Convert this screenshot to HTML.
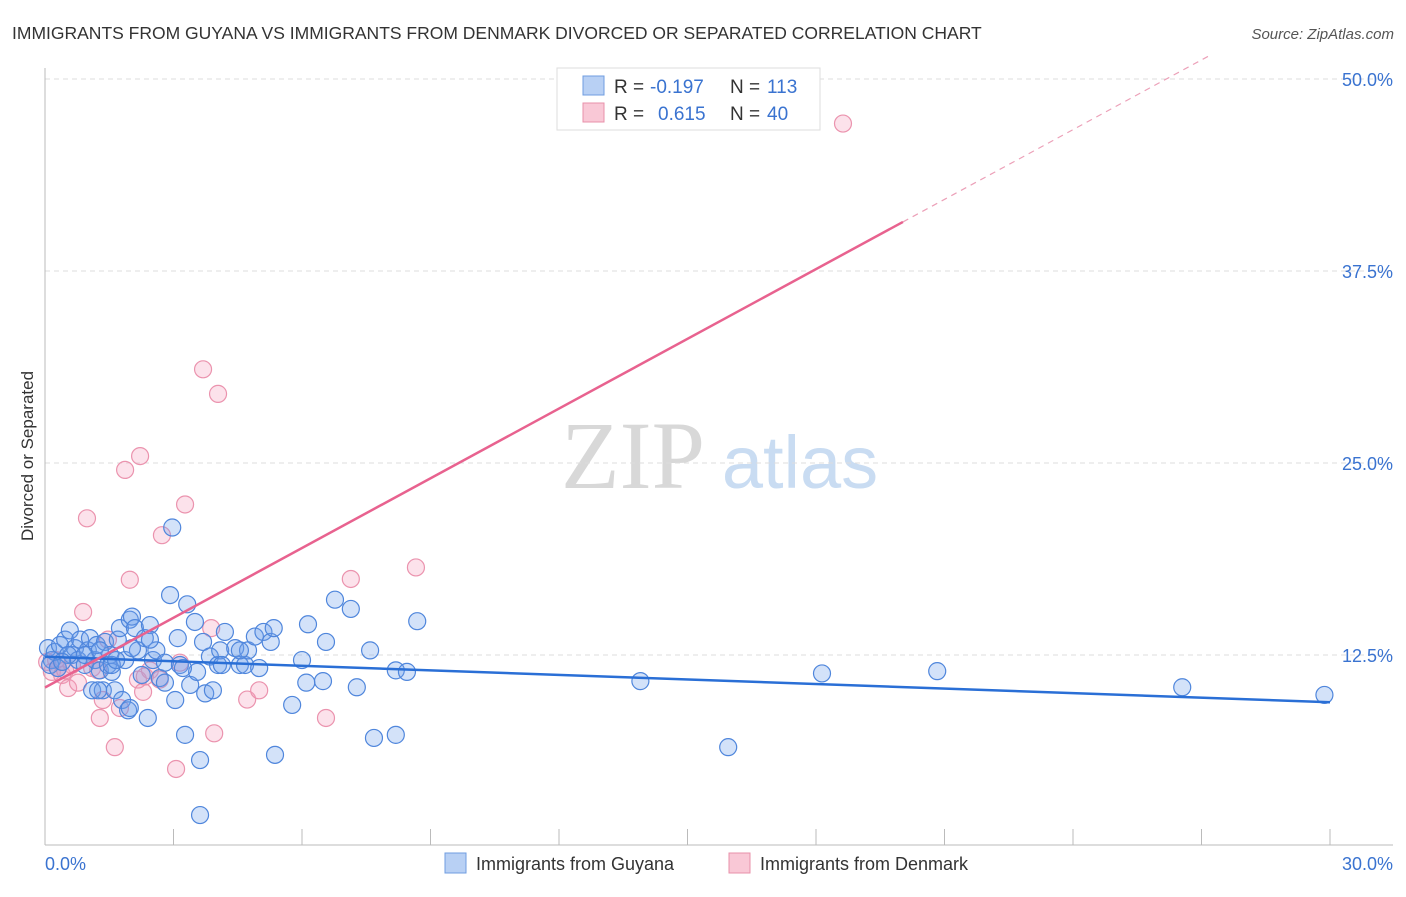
<!DOCTYPE html>
<html><head><meta charset="utf-8"><style>
body{margin:0;background:#fff;font-family:"Liberation Sans",sans-serif;}
svg text{font-family:"Liberation Sans",sans-serif;}
</style></head><body>
<svg id="chart" width="1406" height="892" xmlns="http://www.w3.org/2000/svg">
<text x="12" y="39" font-size="17.5" fill="#333">IMMIGRANTS FROM GUYANA VS IMMIGRANTS FROM DENMARK DIVORCED OR SEPARATED CORRELATION CHART</text>
<text x="1394" y="39" font-size="15" fill="#555" text-anchor="end" font-style="italic">Source: ZipAtlas.com</text>
<g>
<text x="633" y="488" font-size="96" fill="#d8d8d8" text-anchor="middle" style="font-family:'Liberation Serif',serif">ZIP</text>
<text x="800" y="488" font-size="74" fill="#c9dcf2" text-anchor="middle">atlas</text>
</g>
<g id="grid"></g>
<g id="axes"></g>
<g id="marks"></g>
<g id="lines"></g>
<g>
<rect x="557" y="68" width="263" height="62" fill="#fff" stroke="#ddd"/>
<rect x="583" y="76" width="21" height="19" fill="#b8d0f4" stroke="#6f9de0"/>
<text x="614" y="93" font-size="19" fill="#333">R = </text><text x="650" y="93" font-size="19" fill="#3a73d0">-0.197</text>
<text x="730" y="93" font-size="19" fill="#333">N = </text><text x="767" y="93" font-size="19" fill="#3a73d0">113</text>
<rect x="583" y="103" width="21" height="19" fill="#f9c8d6" stroke="#e890aa"/>
<text x="614" y="120" font-size="19" fill="#333">R = </text><text x="658" y="120" font-size="19" fill="#3a73d0">0.615</text>
<text x="730" y="120" font-size="19" fill="#333">N = </text><text x="767" y="120" font-size="19" fill="#3a73d0">40</text>
</g>
<text transform="translate(33,456) rotate(-90)" font-size="17" fill="#333" text-anchor="middle">Divorced or Separated</text>
<g>
<rect x="445" y="853" width="21" height="20" fill="#b8d0f4" stroke="#6f9de0"/>
<text x="476" y="870" font-size="18" fill="#333">Immigrants from Guyana</text>
<rect x="729" y="853" width="21" height="20" fill="#f9c8d6" stroke="#e890aa"/>
<text x="760" y="870" font-size="18" fill="#333">Immigrants from Denmark</text>
</g>
</svg>
<script>
const blueX=[0.07,0.16,0.23,0.35,0.47,0.58,0.63,0.7,0.77,0.82,0.93,1.0,1.05,1.1,1.17,1.21,1.28,1.35,1.4,1.47,1.52,1.56,1.63,1.7,1.75,1.8,1.87,1.94,1.98,2.03,2.1,2.17,2.26,2.33,2.4,2.45,2.52,2.6,2.68,2.8,2.92,2.97,3.04,3.1,3.15,3.27,3.32,3.39,3.5,3.55,3.62,3.69,3.74,3.85,3.92,4.04,4.09,4.13,4.2,3.62,4.44,4.55,4.67,4.74,4.9,5.0,5.1,5.27,5.34,5.37,5.77,6.0,6.1,6.14,6.49,6.56,6.77,7.14,7.28,7.59,7.68,8.19,8.19,8.45,8.69,13.9,15.95,18.14,20.83,26.55,29.87,0.12,0.3,0.54,0.4,0.93,1.28,1.56,1.66,2.03,2.45,2.8,3.22,4.55,1.98,1.24];
const blueY=[12.95,12.17,12.7,13.15,13.5,14.1,12.5,12.95,12.17,13.5,11.85,12.8,13.6,10.2,12.17,13.15,11.5,10.2,13.35,11.85,12.5,11.4,10.2,13.5,14.25,9.57,12.17,8.9,14.8,15.0,14.25,12.8,11.2,13.6,8.4,14.45,12.17,12.8,11.0,12.0,16.4,20.8,9.57,13.6,11.85,7.3,15.8,10.55,14.65,11.4,5.66,13.35,10.0,12.4,10.2,11.85,12.8,11.85,14.0,2.08,12.95,11.85,11.85,12.8,13.7,11.65,14.0,13.35,14.25,6.0,9.25,12.17,10.7,14.5,10.8,13.35,16.1,15.5,10.4,12.8,7.1,11.5,7.3,11.4,14.7,10.8,6.5,11.3,11.45,10.4,9.9,11.85,11.65,12.5,12.05,12.5,12.8,11.85,12.17,12.95,13.5,10.7,11.65,12.8,9.05,10.2];
const pinkX=[0.05,0.16,0.3,0.4,0.54,0.63,0.77,0.89,0.98,1.1,1.24,1.28,1.35,1.47,1.63,1.75,1.87,1.98,2.17,2.22,2.29,2.45,2.68,2.73,3.06,3.15,3.27,3.69,3.88,3.95,4.04,4.72,5.0,6.56,7.14,8.66,18.63,0.26,0.47,2.33];
const pinkY=[12.05,11.4,11.65,11.2,10.35,11.85,10.7,15.3,21.4,11.65,11.5,8.4,9.57,13.5,6.5,9.05,24.55,17.4,10.9,25.45,10.1,11.5,10.9,20.3,5.08,12.0,22.3,31.1,14.25,7.4,29.5,9.6,10.2,8.4,17.45,18.2,47.1,12.17,11.5,11.1];
const yTicks=[12.5,25,37.5,50];
const xTickLabels=["0.0%","30.0%"];
const NS="http://www.w3.org/2000/svg";
const X0=45,X1=1330,Y0=847,PY=192/12.5;
function sx(v){return X0+v*(X1-X0)/30;}
function sy(v){return Y0-v*PY;}
function mk(t,a,p){const e=document.createElementNS(NS,t);for(const k in a)e.setAttribute(k,a[k]);p.appendChild(e);return e;}
const grid=document.getElementById('grid'),axes=document.getElementById('axes'),marks=document.getElementById('marks'),lines=document.getElementById('lines');
yTicks.forEach(v=>{
 const l=mk('line',{x1:45,x2:1393,y1:sy(v),y2:sy(v),stroke:'#ddd','stroke-dasharray':'5,4'},grid);
 
 
 const t=mk('text',{x:1393,y:sy(v)+7,'font-size':18,fill:'#3a73d0','text-anchor':'end'},axes);
 t.textContent=(v%1===0?v.toFixed(1):v)+'%';
 
 
});
const la=mk('line',{x1:45,x2:45,y1:68,y2:845,stroke:'#bbb'},axes);


const lb=mk('line',{x1:45,x2:1393,y1:845,y2:845,stroke:'#bbb'},axes);


for(let i=0;i<=10;i++){
 const tk=mk('line',{x1:sx(i*3),x2:sx(i*3),y1:829,y2:845,stroke:'#bbb'},axes);
 
 
}
const t0=mk('text',{x:45,y:870,'font-size':18,fill:'#3a73d0'},axes);t0.textContent=xTickLabels[0];


const t1=mk('text',{x:1393,y:870,'font-size':18,fill:'#3a73d0','text-anchor':'end'},axes);t1.textContent=xTickLabels[1];


function dots(xs,ys,fill,stroke,name){xs.forEach((x,i)=>{
 const c=mk('circle',{cx:sx(x),cy:sy(ys[i]),r:8.5,fill:fill,stroke:stroke,'stroke-width':1.2},marks);
 
 
});}
dots(pinkX,pinkY,'rgba(244,160,188,0.3)','#eb93ae','denmark-point');
dots(blueX,blueY,'rgba(110,160,235,0.3)','#4f86dc','guyana-point');
function reg(xs,ys){const n=xs.length;let mx=0,my=0;xs.forEach((x,i)=>{mx+=x;my+=ys[i];});mx/=n;my/=n;let sxy=0,sxx=0;xs.forEach((x,i)=>{sxy+=(x-mx)*(ys[i]-my);sxx+=(x-mx)*(x-mx);});const b=sxy/sxx;return [my-b*mx,b];}
const rb=reg(blueX,blueY);
const bl=mk('line',{x1:sx(0),y1:sy(rb[0]),x2:sx(30),y2:sy(rb[0]+rb[1]*30),stroke:'#2a6fd6','stroke-width':2.5},lines);


const rp=reg(pinkX,pinkY);
const xe=Math.max(...pinkX)+1.4;
const pl=mk('line',{x1:sx(0),y1:sy(rp[0]),x2:sx(xe),y2:sy(rp[0]+rp[1]*xe),stroke:'#e8628f','stroke-width':2.5},lines);


const xend=Math.min(30,(51.5-rp[0])/rp[1]);
const pd=mk('line',{x1:sx(xe),y1:sy(rp[0]+rp[1]*xe),x2:sx(xend),y2:sy(rp[0]+rp[1]*xend),stroke:'#eca0b8','stroke-width':1.2,'stroke-dasharray':'6,5'},lines);


</script>
</body></html>
